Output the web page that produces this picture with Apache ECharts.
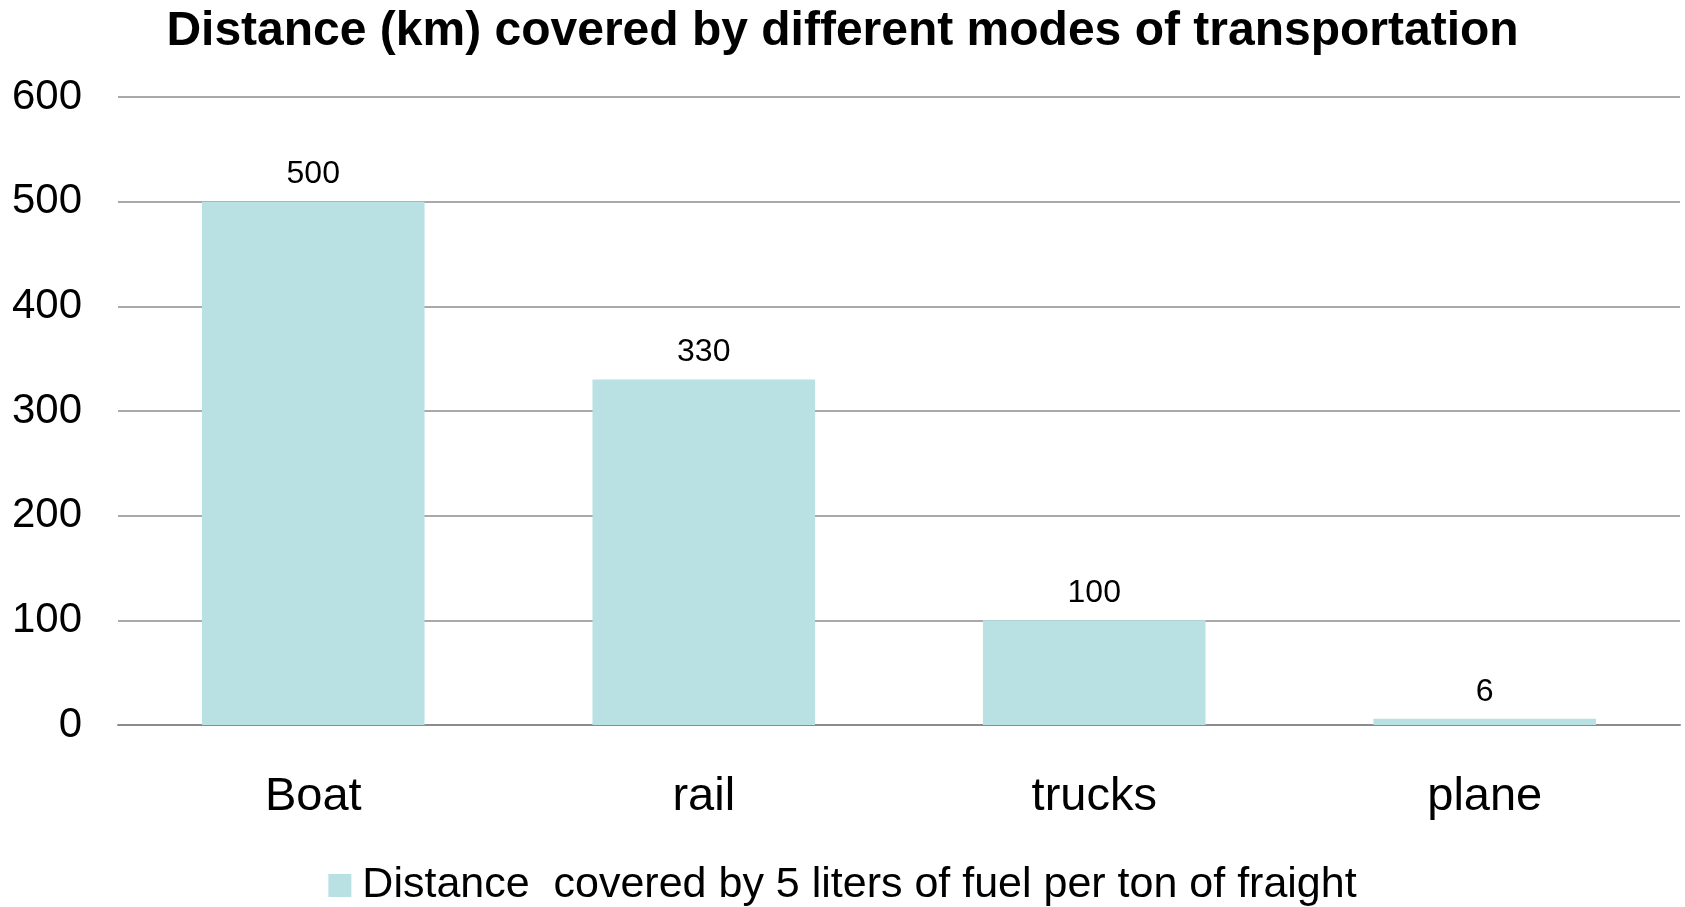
<!DOCTYPE html>
<html>
<head>
<meta charset="utf-8">
<script src="https://cdn.jsdelivr.net/npm/echarts@6/dist/echarts.min.js"></script>
<style>
  html, body { margin: 0; padding: 0; background: #fff; }
  #chart { width: 1685px; height: 907px; }
</style>
</head>
<body>
<div id="chart"></div>
<script>
// chart data
var categories = ['Boat', 'rail', 'trucks', 'plane']
var distances = [500, 330, 100, 6]
var seriesName = 'Distance  covered by 5 liters of fuel per ton of fraight'
var titleText = 'Distance (km) covered by different modes of transportation'

var font = '"Liberation Sans", Arial, sans-serif'
var chart = echarts.init(document.getElementById('chart'))

chart.setOption({
  animation: false,
  backgroundColor: '#fff',
  title: {
    text: titleText,
    left: 'center',
    top: 3,
    textStyle: { fontFamily: font, fontSize: 48, fontWeight: 'bold', color: '#000' }
  },
  legend: {
    bottom: -5,
    left: 'center',
    itemWidth: 23,
    itemHeight: 23,
    itemGap: 10,
    icon: 'rect',
    textStyle: { fontFamily: font, fontSize: 43, color: '#000', padding: [0, 0, 0, 6] },
    data: [seriesName]
  },
  grid: {
    left: 118,
    right: 5,
    top: 97,
    bottom: 182,
    containLabel: false
  },
  xAxis: {
    type: 'category',
    data: categories,
    axisLine: { lineStyle: { color: '#8c8c8c', width: 2 } },
    axisTick: { show: false },
    axisLabel: { fontFamily: font, fontSize: 47, color: '#000', margin: 49 }
  },
  yAxis: {
    type: 'value',
    min: 0,
    max: 600,
    interval: 100,
    axisLine: { show: false },
    axisTick: { show: false },
    axisLabel: { fontFamily: font, fontSize: 42, color: '#000', margin: 36, padding: [9, 0, 0, 0] },
    splitLine: { lineStyle: { color: '#8c8c8c', width: 1.5 } }
  },
  series: [{
    name: seriesName,
    type: 'bar',
    data: distances,
    barCategoryGap: '43%',
    itemStyle: { color: '#b9e0e2' },
    label: {
      show: true,
      position: 'top',
      distance: 11,
      fontFamily: font,
      fontSize: 32,
      color: '#000'
    }
  }]
})

window.addEventListener('resize', function () {
  chart.resize()
})
</script>
</body>
</html>
